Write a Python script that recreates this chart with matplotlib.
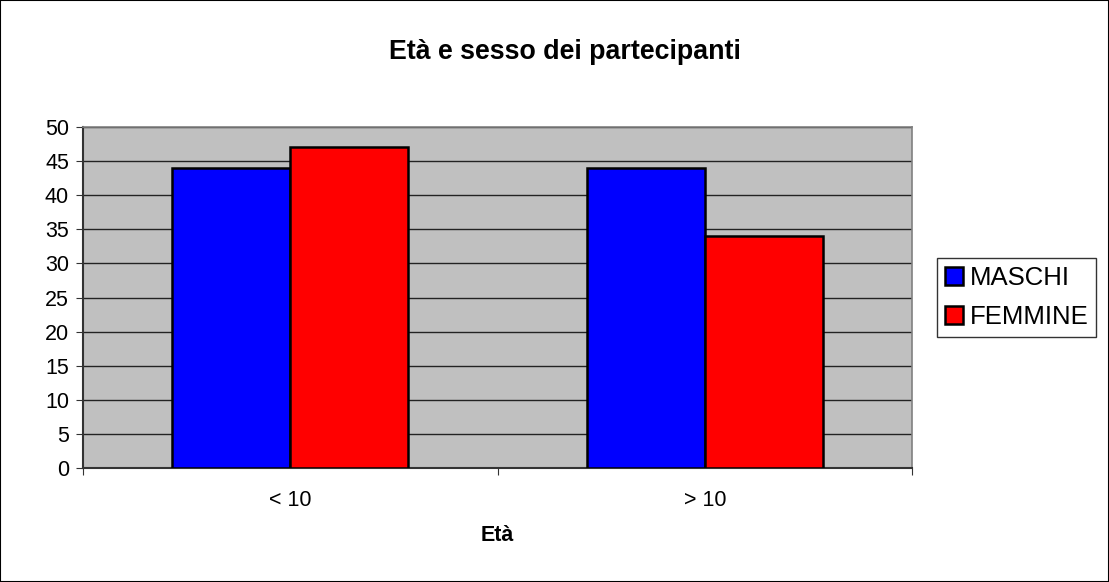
import matplotlib
matplotlib.use("Agg")
import matplotlib.pyplot as plt
import numpy as np
from matplotlib.patches import Rectangle

categories = ["< 10", "> 10"]
maschi = [44, 44]
femmine = [47, 34]
series_names = ["MASCHI", "FEMMINE"]
yticks = [0, 5, 10, 15, 20, 25, 30, 35, 40, 45, 50]

plt.rcParams['font.family'] = ['Liberation Sans', 'DejaVu Sans']

fig = plt.figure(figsize=(11.09, 5.82), dpi=100)
fig.patches.append(Rectangle((0, 0), 1, 1, transform=fig.transFigure, fill=False,
                             edgecolor='black', linewidth=1.5, zorder=10))

ax = fig.add_axes([83/1109, 1 - 468/582, (912-83)/1109, (468-127)/582])
ax.set_facecolor('#C0C0C0')

x = np.arange(len(categories))
w = 0.285
ax.bar(x - w/2, maschi, w, color='#0000FF', edgecolor='black', linewidth=1.8,
       label=series_names[0], zorder=3)
ax.bar(x + w/2, femmine, w, color='#FF0000', edgecolor='black', linewidth=1.8,
       label=series_names[1], zorder=3)

ax.set_xlim(-0.5, 1.5)
ax.set_ylim(0, 50)
ax.set_yticks(yticks)
ax.set_yticklabels([str(v) for v in yticks], fontsize=15.5)
ax.yaxis.grid(True, color='#222222', linewidth=1, zorder=1)
ax.set_axisbelow(True)

ax.set_xticks([-0.5, 0.5, 1.5])
ax.set_xticklabels([])
ax.set_xticks(x, minor=True)
ax.set_xticklabels(categories, minor=True, fontsize=15.5)
ax.tick_params(axis='x', which='minor', length=0, pad=16)
ax.tick_params(axis='x', which='major', length=5, color='#333333', direction='out')
ax.tick_params(axis='y', length=5, color='#333333', direction='out', pad=5)

for s in ['top', 'right']:
    ax.spines[s].set_color('#808080')
    ax.spines[s].set_linewidth(1.2)
for s in ['left', 'bottom']:
    ax.spines[s].set_color('#333333')
    ax.spines[s].set_linewidth(1.5)

ax.set_xlabel("Età", fontsize=15.5, fontweight='bold', labelpad=10)
fig.text(565/1109, 1 - 52/582, "Età e sesso dei partecipanti", ha='center', va='center',
         fontsize=19.3, fontweight='bold')

leg = ax.legend(loc='center left', bbox_to_anchor=(937/1109, 1 - 297.5/582),
                bbox_transform=fig.transFigure, fontsize=18.5, frameon=True,
                fancybox=False, edgecolor='black', handlelength=0.7, handleheight=0.7,
                handletextpad=0.27, borderpad=0.3, borderaxespad=0, labelspacing=0.58)
leg.get_frame().set_linewidth(1)

fig.savefig("out.png", dpi=100)
